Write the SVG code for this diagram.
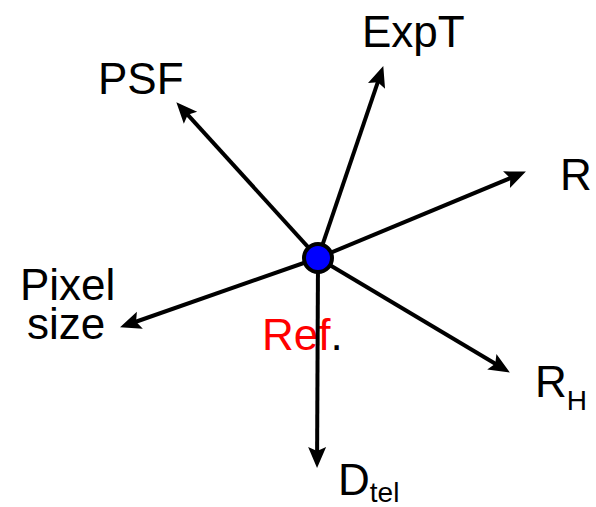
<svg xmlns="http://www.w3.org/2000/svg" width="596" height="507" viewBox="0 0 596 507">
<style>
text{font-family:"Liberation Sans",Arial,sans-serif;font-size:44px;fill:#000}
.sub{font-size:28px}
.ref{fill:#ff0000}
.conn line{stroke:#000;stroke-width:4;fill:none;marker-end:url(#ah)}
</style>
<defs>
<marker id="ah" markerUnits="userSpaceOnUse" markerWidth="24" markerHeight="20" refX="8" refY="9" orient="auto" overflow="visible">
<path d="M0,0 L21,9 L0,18 L4,9 Z" fill="#000"/>
</marker>
</defs>
<rect width="596" height="507" fill="#fff"/>
<g id="ref-label"><text x="262" y="350"><tspan class="ref">Ref</tspan>.</text></g>
<g id="expt"><text x="362" y="47">ExpT</text></g>
<g id="psf"><text x="98" y="94">PSF</text></g>
<g id="r"><text x="560" y="190">R</text></g>
<g id="pixel"><text x="20" y="300">Pixel</text><text x="27" y="339">size</text></g>
<g id="rh"><text x="535" y="397">R<tspan class="sub" dy="13">H</tspan></text></g>
<g id="dtel"><text x="338" y="495">D<tspan class="sub" dy="7">tel</tspan></text></g>
<g id="connectors" class="conn">
<line x1="318" y1="258" x2="379.1" y2="78.4"/>
<line x1="318" y1="258" x2="185.1" y2="111.9"/>
<line x1="318" y1="258" x2="513.9" y2="176.6"/>
<line x1="318" y1="258" x2="132.3" y2="323"/>
<line x1="318" y1="258" x2="498.7" y2="365.8"/>
<line x1="318" y1="258" x2="317.1" y2="455"/>
</g>
<g id="center"><circle cx="318" cy="258" r="14" fill="#0000ff" stroke="#000" stroke-width="4"/></g>
</svg>
